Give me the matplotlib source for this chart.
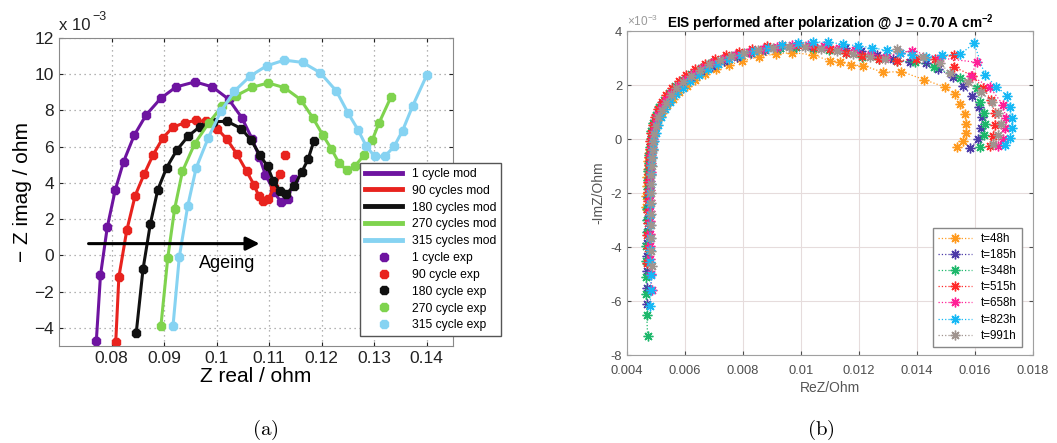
import matplotlib.pyplot as plt

plt.rcParams['font.family'] = ['Liberation Sans', 'DejaVu Sans']
plt.rcParams['mathtext.fontset'] = 'custom'
plt.rcParams['mathtext.rm'] = 'Liberation Sans'
plt.rcParams['mathtext.it'] = 'Liberation Sans:italic'
plt.rcParams['mathtext.bf'] = 'Liberation Sans:bold'

## Panel (a): Z real / ohm vs -Z imag / 1e-3 ohm
x_1cyc = [0.0771, 0.0779, 0.0792, 0.0807, 0.0823, 0.0843, 0.0866, 0.0894, 0.0923, 0.0959,
          0.0992, 0.1023, 0.1048, 0.1068, 0.1081, 0.1093, 0.1110, 0.1122, 0.1135, 0.1148]
y_1cyc = [-4.75, -1.10, 1.57, 3.60, 5.18, 6.62, 7.76, 8.68, 9.30, 9.58,
          9.30, 8.62, 7.60, 6.41, 5.45, 4.45, 3.50, 2.95, 3.10, 4.20]
x_90cyc = [0.0808, 0.0814, 0.0829, 0.0845, 0.0862, 0.0879, 0.0898, 0.0917, 0.0939, 0.0960, 0.0980,
           0.1001, 0.1020, 0.1039, 0.1057, 0.1071, 0.1080, 0.1089, 0.1098, 0.1110, 0.1121, 0.1130]
y_90cyc = [-4.80, -1.19, 1.38, 3.30, 4.48, 5.54, 6.50, 7.08, 7.32, 7.45, 7.40,
           7.00, 6.40, 5.57, 4.65, 3.90, 3.30, 2.98, 3.10, 3.80, 4.50, 5.52]
x_180cyc = [0.0847, 0.0860, 0.0874, 0.0888, 0.0905, 0.0924, 0.0946, 0.0968, 0.0993, 0.1020, 0.1047,
            0.1066, 0.1082, 0.1097, 0.1108, 0.1121, 0.1133, 0.1148, 0.1162, 0.1174, 0.1185]
y_180cyc = [-4.29, -0.75, 1.76, 3.62, 4.85, 5.80, 6.59, 7.10, 7.38, 7.40, 7.00,
            6.35, 5.56, 4.91, 4.10, 3.55, 3.40, 3.85, 4.60, 5.30, 6.30]
x_270cyc = [0.0894, 0.0907, 0.0920, 0.0935, 0.0958, 0.0985, 0.1011, 0.1036, 0.1068, 0.1098, 0.1129,
            0.1160, 0.1183, 0.1202, 0.1218, 0.1233, 0.1248, 0.1264, 0.1281, 0.1296, 0.1309, 0.1332]
y_270cyc = [-3.90, -0.15, 2.55, 4.64, 6.15, 7.31, 8.26, 8.80, 9.28, 9.52, 9.26,
            8.60, 7.60, 6.65, 5.90, 5.10, 4.70, 4.95, 5.55, 6.35, 7.30, 8.75]
x_315cyc = [0.0917, 0.0929, 0.0945, 0.0961, 0.0984, 0.1008, 0.1034, 0.1064, 0.1095, 0.1129, 0.1164,
            0.1197, 0.1228, 0.1250, 0.1269, 0.1285, 0.1301, 0.1320, 0.1338, 0.1354, 0.1373, 0.1400]
y_315cyc = [-3.90, -0.09, 2.72, 4.82, 6.48, 7.95, 9.07, 9.90, 10.46, 10.78, 10.65,
            10.09, 9.07, 7.87, 6.94, 6.02, 5.46, 5.46, 6.02, 6.89, 8.24, 9.95]
mod_len = [20, 21, 21, 22, 22]  # model curve points (last 90-cycle point is exp only)
labels_mod = ["1 cycle mod", "90 cycles mod", "180 cycles mod", "270 cycles mod", "315 cycles mod"]
labels_exp = ["1 cycle exp", "90 cycle exp", "180 cycle exp", "270 cycle exp", "315 cycle exp"]
colors_a = ["#6e14a0", "#e8231e", "#111111", "#7fd34e", "#86d3f2"]
xticks_a = [0.08, 0.09, 0.10, 0.11, 0.12, 0.13, 0.14]
xticklabels_a = ["0.08", "0.09", "0.1", "0.11", "0.12", "0.13", "0.14"]
yticks_a = [-4, -2, 0, 2, 4, 6, 8, 10, 12]
yticklabels_a = ["\u22124", "\u22122", "0", "2", "4", "6", "8", "10", "12"]

## Panel (b): ReZ / Ohm vs -ImZ / 1e-3 Ohm
x_48h = [0.00466, 0.00467, 0.00468, 0.00469, 0.00471, 0.00473, 0.00476, 0.00481, 0.00488, 0.00497,
         0.00508, 0.00522, 0.00538, 0.00557, 0.00580, 0.00606, 0.00636, 0.00670, 0.00708, 0.00750,
         0.00795, 0.00855, 0.00913, 0.00970, 0.01040, 0.01099, 0.01133, 0.01173, 0.01215, 0.01283,
         0.01346, 0.01424, 0.01495, 0.01530, 0.01549, 0.01566, 0.01570, 0.01568, 0.01560, 0.01538]
y_48h = [-2.5, -2.1, -1.75, -1.4, -1.1, -0.8, -0.5, -0.2, 0.1, 0.4,
         0.7, 0.98, 1.25, 1.5, 1.75, 1.98, 2.2, 2.4, 2.58, 2.74,
         2.88, 3.05, 3.15, 3.2, 3.12, 2.9, 2.86, 2.74, 2.72, 2.47,
         2.5, 2.2, 1.93, 1.67, 1.3, 0.93, 0.56, 0.21, -0.06, -0.3]
x_185h = [0.00470, 0.00469, 0.00469, 0.00470, 0.00470, 0.00471, 0.00472, 0.00473, 0.00474, 0.00475,
          0.00476, 0.00477, 0.00478, 0.00480, 0.00482, 0.00485, 0.00489, 0.00496, 0.00507, 0.00522,
          0.00540, 0.00562, 0.00588, 0.00620, 0.00655, 0.00692, 0.00733, 0.00778, 0.00826, 0.00876,
          0.00928, 0.00982, 0.01038, 0.01094, 0.01150, 0.01206, 0.01262, 0.01318, 0.01375, 0.01430,
          0.01474, 0.01525, 0.01560, 0.01590, 0.01614, 0.01624, 0.01622, 0.01612, 0.01583]
y_185h = [-6.1, -5.5, -4.9, -4.35, -3.85, -3.4, -2.95, -2.55, -2.15, -1.8,
          -1.45, -1.1, -0.8, -0.5, -0.2, 0.1, 0.4, 0.7, 1.0, 1.28,
          1.55, 1.8, 2.05, 2.3, 2.52, 2.72, 2.9, 3.05, 3.18, 3.28,
          3.36, 3.42, 3.45, 3.42, 3.36, 3.25, 3.1, 2.95, 2.85, 2.8,
          2.6, 2.3, 1.95, 1.6, 1.2, 0.8, 0.4, 0.0, -0.35]
x_348h = [0.00471, 0.00468, 0.00466, 0.00466, 0.00467, 0.00467, 0.00468, 0.00469, 0.00470, 0.00471,
          0.00472, 0.00473, 0.00474, 0.00476, 0.00477, 0.00479, 0.00481, 0.00484, 0.00490, 0.00499,
          0.00511, 0.00526, 0.00544, 0.00566, 0.00592, 0.00621, 0.00654, 0.00690, 0.00730, 0.00775,
          0.00823, 0.00874, 0.00928, 0.00983, 0.01040, 0.01097, 0.01155, 0.01212, 0.01270, 0.01330,
          0.01392, 0.01457, 0.01549, 0.01606, 0.01617, 0.01632, 0.01636, 0.01630, 0.01617]
y_348h = [-7.3, -6.5, -5.75, -5.1, -4.5, -3.95, -3.45, -3.0, -2.6, -2.2,
          -1.85, -1.5, -1.2, -0.9, -0.6, -0.3, 0.0, 0.3, 0.6, 0.9,
          1.18, 1.45, 1.7, 1.95, 2.2, 2.42, 2.62, 2.8, 2.96, 3.1,
          3.22, 3.32, 3.38, 3.4, 3.36, 3.3, 3.18, 3.05, 2.95, 2.88,
          2.86, 2.68, 2.25, 1.88, 1.38, 0.95, 0.55, 0.15, -0.28]
x_515h = [0.00470, 0.00471, 0.00470, 0.00471, 0.00472, 0.00472, 0.00473, 0.00474, 0.00475, 0.00476,
          0.00477, 0.00478, 0.00480, 0.00483, 0.00488, 0.00496, 0.00506, 0.00519, 0.00535, 0.00555,
          0.00578, 0.00605, 0.00635, 0.00668, 0.00703, 0.00742, 0.00785, 0.00832, 0.00882, 0.00935,
          0.00990, 0.01045, 0.01100, 0.01155, 0.01210, 0.01268, 0.01330, 0.01395, 0.01462, 0.01526,
          0.01526, 0.01590, 0.01628, 0.01655, 0.01668, 0.01670, 0.01662, 0.01651]
y_515h = [-4.6, -4.05, -3.55, -3.1, -2.7, -2.3, -1.95, -1.6, -1.28, -0.98,
          -0.68, -0.38, -0.08, 0.22, 0.52, 0.82, 1.1, 1.38, 1.64, 1.9,
          2.14, 2.37, 2.58, 2.78, 2.95, 3.1, 3.24, 3.35, 3.45, 3.5,
          3.48, 3.42, 3.32, 3.2, 3.08, 2.95, 2.88, 2.98, 2.96, 3.11,
          2.68, 2.35, 1.9, 1.45, 0.98, 0.52, 0.1, -0.25]
x_658h = [0.00485, 0.00482, 0.00480, 0.00479, 0.00478, 0.00478, 0.00478, 0.00479, 0.00479, 0.00480,
          0.00481, 0.00482, 0.00483, 0.00485, 0.00488, 0.00492, 0.00499, 0.00508, 0.00520, 0.00535,
          0.00553, 0.00575, 0.00600, 0.00628, 0.00659, 0.00694, 0.00732, 0.00774, 0.00820, 0.00868,
          0.00918, 0.00970, 0.01024, 0.01078, 0.01132, 0.01186, 0.01240, 0.01292, 0.01340, 0.01383,
          0.01480, 0.01608, 0.01585, 0.01651, 0.01697, 0.01706, 0.01704, 0.01695, 0.01680]
y_658h = [-5.6, -5.0, -4.45, -3.95, -3.5, -3.05, -2.65, -2.25, -1.9, -1.55,
          -1.22, -0.9, -0.6, -0.3, 0.0, 0.3, 0.6, 0.9, 1.18, 1.45,
          1.72, 1.97, 2.2, 2.42, 2.62, 2.8, 2.96, 3.1, 3.22, 3.32,
          3.42, 3.48, 3.5, 3.45, 3.38, 3.28, 3.15, 3.05, 3.2, 3.26,
          3.0, 2.84, 2.35, 1.92, 1.26, 0.77, 0.4, 0.0, -0.25]
x_823h = [0.00478, 0.00484, 0.00481, 0.00479, 0.00478, 0.00478, 0.00478, 0.00478, 0.00479, 0.00480,
          0.00481, 0.00482, 0.00484, 0.00486, 0.00489, 0.00493, 0.00499, 0.00507, 0.00518, 0.00532,
          0.00549, 0.00569, 0.00592, 0.00618, 0.00647, 0.00679, 0.00714, 0.00752, 0.00793, 0.00838,
          0.00886, 0.00936, 0.00988, 0.01040, 0.01092, 0.01144, 0.01196, 0.01246, 0.01296, 0.01342,
          0.01383, 0.01430, 0.01486, 0.01549, 0.01597, 0.01634, 0.01674, 0.01711, 0.01720, 0.01726,
          0.01726, 0.01720, 0.01703]
y_823h = [-6.2, -5.6, -5.05, -4.55, -4.1, -3.65, -3.2, -2.8, -2.4, -2.0,
          -1.65, -1.3, -0.98, -0.68, -0.38, -0.08, 0.22, 0.52, 0.82, 1.1,
          1.38, 1.65, 1.9, 2.14, 2.37, 2.58, 2.78, 2.96, 3.12, 3.26,
          3.38, 3.48, 3.56, 3.6, 3.58, 3.52, 3.45, 3.38, 3.28, 3.2,
          3.1, 3.05, 3.1, 3.14, 3.54, 2.37, 1.94, 1.6, 1.2, 0.77,
          0.4, 0.02, -0.22]
x_991h = [0.00486, 0.00484, 0.00483, 0.00482, 0.00482, 0.00482, 0.00483, 0.00483, 0.00484, 0.00485,
          0.00486, 0.00488, 0.00490, 0.00494, 0.00500, 0.00508, 0.00519, 0.00533, 0.00550, 0.00570,
          0.00593, 0.00620, 0.00650, 0.00683, 0.00720, 0.00760, 0.00804, 0.00852, 0.00904, 0.00958,
          0.01013, 0.01068, 0.01123, 0.01180, 0.01238, 0.01290, 0.01331, 0.01420, 0.01480, 0.01514,
          0.01575, 0.01620, 0.01657, 0.01680, 0.01688, 0.01680, 0.01662]
y_991h = [-4.7, -4.15, -3.65, -3.2, -2.78, -2.38, -2.0, -1.65, -1.32, -1.0,
          -0.7, -0.4, -0.1, 0.2, 0.5, 0.8, 1.08, 1.35, 1.62, 1.88,
          2.12, 2.35, 2.56, 2.76, 2.93, 3.08, 3.2, 3.3, 3.38, 3.42,
          3.4, 3.35, 3.26, 3.15, 3.05, 2.98, 3.33, 3.05, 2.8, 2.43,
          2.1, 1.75, 1.38, 0.95, 0.55, 0.15, -0.2]
labels_b = ["t=48h", "t=185h", "t=348h", "t=515h", "t=658h", "t=823h", "t=991h"]
colors_b = ["#ff9a1e", "#4b3aa8", "#1db86b", "#ff2a2a", "#ff1f96", "#15b8f5", "#a0948f"]
xticks_b = [0.004, 0.006, 0.008, 0.010, 0.012, 0.014, 0.016, 0.018]
xticklabels_b = ["0.004", "0.006", "0.008", "0.01", "0.012", "0.014", "0.016", "0.018"]
yticks_b = [-8, -6, -4, -2, 0, 2, 4]
yticklabels_b = ["-8", "-6", "-4", "-2", "0", "2", "4"]

xa = [x_1cyc, x_90cyc, x_180cyc, x_270cyc, x_315cyc]
ya = [y_1cyc, y_90cyc, y_180cyc, y_270cyc, y_315cyc]
xb = [x_48h, x_185h, x_348h, x_515h, x_658h, x_823h, x_991h]
yb = [y_48h, y_185h, y_348h, y_515h, y_658h, y_823h, y_991h]

fig = plt.figure(figsize=(10.57, 4.43), dpi=100)

## Panel (a)
axa = fig.add_axes([0.0558, 0.219, 0.3728, 0.6952])
mod_h = []
exp_h = []
for xs, ys, n, c, lm, le in zip(xa, ya, mod_len, colors_a, labels_mod, labels_exp):
    h, = axa.plot(xs[:n], ys[:n], '-', color=c, lw=2.2, label=lm)
    p, = axa.plot(xs, ys, ls='none', marker='8', ms=6.5, color=c, label=le)
    mod_h.append(h)
    exp_h.append(p)

axa.set_xlim(0.07, 0.145)
axa.set_ylim(-5, 12)
axa.set_xticks(xticks_a)
axa.set_xticklabels(xticklabels_a)
axa.set_yticks(yticks_a)
axa.set_yticklabels(yticklabels_a)
axa.tick_params(direction='in', labelsize=12.5, colors='#222222', length=3, top=True, right=True)
for sp in axa.spines.values():
    sp.set_color('#8a8a8a')
axa.grid(True, color='#9a9a9a', ls=(0, (1, 3)), lw=0.9)
axa.set_xlabel("Z real / ohm", fontsize=15, labelpad=1)
axa.set_ylabel("\u2212 Z imag / ohm", fontsize=15, labelpad=2)
fig.text(0.056, 0.925, "x 10", fontsize=12, color='#222222', va='bottom')
fig.text(0.087, 0.948, "\u22123", fontsize=9, color='#222222', va='bottom')

axa.annotate("", xy=(0.1087, 0.65), xytext=(0.0751, 0.65),
             arrowprops=dict(arrowstyle='-|>', lw=2.2, color='k', mutation_scale=20))
axa.text(0.0966, -0.45, "Ageing", fontsize=13, va='center', ha='left')

lega = axa.legend(handles=mod_h + exp_h, loc='upper left', bbox_to_anchor=(0.3406, 0.632),
                  bbox_transform=fig.transFigure, borderaxespad=0, fontsize=8.7,
                  handlelength=3.1, labelspacing=0.4, fancybox=False, framealpha=1,
                  edgecolor='#555555')
for lh in lega.get_lines()[:5]:
    lh.set_linewidth(3.5)

## Panel (b)
axb = fig.add_axes([0.5932, 0.1986, 0.3841, 0.7314])
for xs, ys, c, lab in zip(xb, yb, colors_b, labels_b):
    axb.plot(xs, ys, ls=':', lw=0.9, marker=(8, 2, 0), ms=7, mew=1.0, color=c, label=lab)

axb.set_xlim(0.004, 0.018)
axb.set_ylim(-8, 4)
axb.set_xticks(xticks_b)
axb.set_xticklabels(xticklabels_b)
axb.set_yticks(yticks_b)
axb.set_yticklabels(yticklabels_b)
axb.tick_params(direction='in', labelsize=9.3, colors='#4d4d4d', length=3, top=True, right=True)
axb.tick_params(axis='x', pad=7)
for sp in axb.spines.values():
    sp.set_color('#a0a0a0')
axb.grid(True, color='#e6dcdc', lw=0.8)
axb.set_axisbelow(True)
axb.set_xlabel("ReZ/Ohm", fontsize=10, color='#555555', labelpad=3)
axb.set_ylabel("-ImZ/Ohm", fontsize=10, color='#555555')
axb.set_title(r"EIS performed after polarization @ J = 0.70 A cm$^{\mathbf{-2}}$",
              fontsize=9.8, fontweight='bold', pad=2)
fig.text(0.593, 0.935, r"$\times$10$^{-3}$", fontsize=8.5, color='#9a9a9a', va='bottom')

axb.legend(loc='upper left', bbox_to_anchor=(0.8827, 0.4853), bbox_transform=fig.transFigure,
           borderaxespad=0, fontsize=8.4, handlelength=2.9, labelspacing=0.36,
           fancybox=False, framealpha=1, edgecolor='#888888')

## Captions
fig.text(0.2507, 0.03, r"$(\mathrm{a})$", fontsize=15, ha='center', va='center', math_fontfamily='cm')
fig.text(0.7767, 0.03, r"$(\mathrm{b})$", fontsize=15, ha='center', va='center', math_fontfamily='cm')

fig.savefig("out.png", dpi=100)
